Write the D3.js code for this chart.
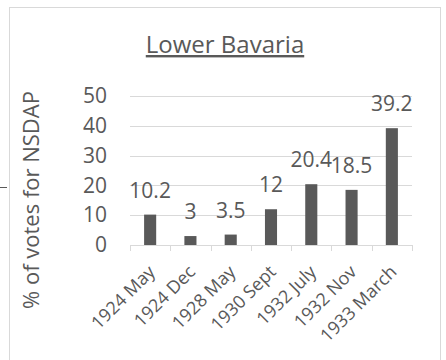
<!DOCTYPE html>
<html>
<head>
<meta charset="utf-8">
<script src="https://cdn.jsdelivr.net/npm/d3@7"></script>
<style>
  html, body { margin: 0; padding: 0; background: #fff; }
  svg { display: block; }
  text { font-family: "Open Sans", "Noto Sans", sans-serif; fill: #595959; }
</style>
</head>
<body>
<svg id="chart" width="446" height="360"></svg>
<script>
// Election results, NSDAP share of the vote in Lower Bavaria
const categories = ["1924 May", "1924 Dec", "1928 May", "1930 Sept", "1932 July", "1932 Nov", "1933 March"];
const voteShare = [10.2, 3, 3.5, 12, 20.4, 18.5, 39.2];
const yTicks = [0, 10, 20, 30, 40, 50];
const titleText = "Lower Bavaria";
const yAxisTitle = "% of votes for NSDAP";

const svg = d3.select("#chart");
const plot = { left: 130, right: 412, top: 96, bottom: 245 };

// chart frame
svg.append("rect")
  .attr("x", 9.5).attr("y", 7.5)
  .attr("width", 431).attr("height", 360)
  .attr("fill", "#fff").attr("stroke", "#d9d9d9").attr("stroke-width", 1);

// short connector stub at the left edge
svg.append("line")
  .attr("x1", 0).attr("x2", 7).attr("y1", 187.5).attr("y2", 187.5)
  .attr("stroke", "#595959").attr("stroke-width", 1);

const x = d3.scaleBand()
  .domain(categories)
  .range([plot.left, plot.right])
  .paddingInner(0.7)
  .paddingOuter(0.35);

const y = d3.scaleLinear().domain([0, 50]).range([plot.bottom, plot.top]);

// horizontal gridlines
svg.append("g")
  .selectAll("line")
  .data(yTicks.filter(d => d > 0))
  .join("line")
  .attr("x1", plot.left).attr("x2", plot.right)
  .attr("y1", d => Math.round(y(d)) + 0.5).attr("y2", d => Math.round(y(d)) + 0.5)
  .attr("stroke", "#d9d9d9").attr("stroke-width", 1);

// y tick labels
const yAxis = d3.axisLeft(y).tickValues(yTicks).tickSize(0).tickPadding(23);
const gy = svg.append("g").attr("transform", `translate(${plot.left},0)`).call(yAxis);
gy.select(".domain").remove();
gy.selectAll("text")
  .style("font-size", "21px")
  .attr("fill", "#595959");

// bars
svg.append("g")
  .selectAll("rect")
  .data(voteShare)
  .join("rect")
  .attr("x", (d, i) => x(categories[i]))
  .attr("width", x.bandwidth())
  .attr("y", d => y(d))
  .attr("height", d => y(0) - y(d))
  .attr("fill", "#595959");

// value labels
svg.append("g")
  .selectAll("text")
  .data(voteShare)
  .join("text")
  .attr("x", (d, i) => x(categories[i]) + x.bandwidth() / 2)
  .attr("y", d => y(d) - 17)
  .attr("text-anchor", "middle")
  .style("font-size", "21px")
  .text(d => d);

// category axis: baseline and tick marks between categories
const step = x.step();
const gx = svg.append("g");
gx.append("line")
  .attr("x1", plot.left).attr("x2", plot.right)
  .attr("y1", plot.bottom + 0.5).attr("y2", plot.bottom + 0.5)
  .attr("stroke", "#d9d9d9").attr("stroke-width", 1);
gx.selectAll("line.tick")
  .data(d3.range(categories.length + 1))
  .join("line")
  .attr("class", "tick")
  .attr("x1", i => Math.round(plot.left + i * step) + 0.5)
  .attr("x2", i => Math.round(plot.left + i * step) + 0.5)
  .attr("y1", plot.bottom).attr("y2", plot.bottom + 6)
  .attr("stroke", "#d9d9d9").attr("stroke-width", 1);

gx.selectAll("text")
  .data(categories)
  .join("text")
  .attr("transform", d => `translate(${x(d) + x.bandwidth() / 2 + 6},${plot.bottom + 28}) rotate(-45)`)
  .attr("text-anchor", "end")
  .style("font-size", "18px")
  .text(d => d);

// y axis title
svg.append("text")
  .attr("transform", `translate(39,200) rotate(-90)`)
  .attr("text-anchor", "middle")
  .style("font-size", "22px")
  .text(yAxisTitle);

// chart title, underlined
svg.append("text")
  .attr("x", 225).attr("y", 53)
  .attr("text-anchor", "middle")
  .style("font-size", "24px")
  .style("text-decoration", "underline")
  .text(titleText);
</script>
</body>
</html>
